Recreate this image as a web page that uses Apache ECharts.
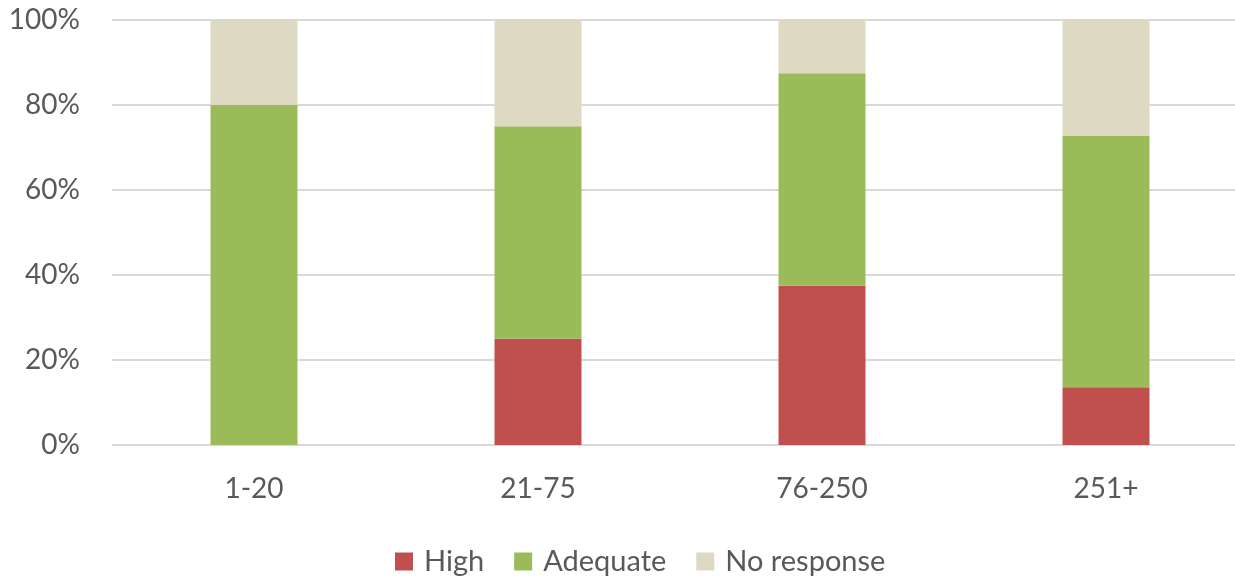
<!DOCTYPE html>
<html><head><meta charset="utf-8">
<script src="https://cdn.jsdelivr.net/npm/echarts@6/dist/echarts.min.js"></script>
<style>html,body{margin:0;padding:0;background:#fff;overflow:hidden;width:1235px;height:576px}#c{width:1248px;height:576px}</style>
</head><body><div id="c"></div>
<script>
const categories = ['1-20', '21-75', '76-250', '251+'];
const high = [0, 25, 37.5, 13.6];
const adequate = [80, 50, 50, 59.1];
const noResponse = [20, 25, 12.5, 27.3];
const yTicks = [0, 20, 40, 60, 80, 100];

const font = 'Lato, "Open Sans", sans-serif';
const chart = echarts.init(document.getElementById('c'));
chart.setOption({
  animation: false,
  grid: {left: 112, right: 0, top: 20, bottom: 131, containLabel: false},
  legend: {
    top: 542, left: 390, itemWidth: 18, itemHeight: 18, itemGap: 30,
    icon: 'rect',
    textStyle: {fontFamily: font, fontSize: 29, color: '#595959', padding: [0, 0, 0, 6]},
    data: ['High', 'Adequate', 'No response']
  },
  xAxis: {
    type: 'category', data: categories,
    axisLine: {show: false}, axisTick: {show: false},
    axisLabel: {fontFamily: font, fontSize: 28, color: '#595959', margin: 30}
  },
  yAxis: {
    type: 'value', min: 0, max: 100, interval: 20,
    axisLabel: {fontFamily: font, fontSize: 28, color: '#595959', margin: 32,
      formatter: v => yTicks.includes(v) ? v + '%' : ''},
    splitLine: {lineStyle: {color: '#D9D9D9', width: 2}},
    axisLine: {show: false}, axisTick: {show: false}
  },
  series: [
    {name: 'High', type: 'bar', stack: 's', data: high, barWidth: 87, itemStyle: {color: '#C0504D'}},
    {name: 'Adequate', type: 'bar', stack: 's', data: adequate, barWidth: 87, itemStyle: {color: '#9BBB59'}},
    {name: 'No response', type: 'bar', stack: 's', data: noResponse, barWidth: 87, itemStyle: {color: '#DDD9C3'}}
  ]
});
</script></body></html>
